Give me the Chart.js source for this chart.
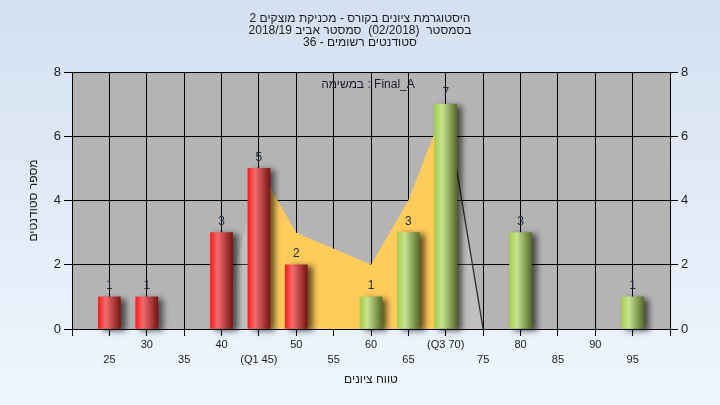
<!DOCTYPE html>
<html lang="he">
<head>
<meta charset="utf-8">
<title>היסטוגרמת ציונים</title>
<script src="https://cdn.jsdelivr.net/npm/chart.js@4.4.1/dist/chart.umd.min.js"></script>
<style>
  html, body { margin: 0; padding: 0; background: #e4edf8; }
  canvas { display: block; }
</style>
</head>
<body>
<canvas id="histogram" width="720" height="405" dir="rtl"></canvas>
<script>
// chart data
const titleLines = [
  "היסטוגרמת ציונים בקורס - מכניקת מוצקים 2",
  "בסמסטר  (02/2018)  סמסטר אביב 2018/19",
  "סטודנטים רשומים - 36",
];
const grades = [25, 30, 35, 40, 45, 50, 55, 60, 65, 70, 75, 80, 85, 90, 95];
const counts = [1, 1, 0, 3, 5, 2, 0, 1, 3, 7, 0, 3, 0, 0, 1];
const curveGrades = [40, 45, 50, 60, 65, 70, 75];
const curveCounts = [0, 5, 3, 2, 4, 7, 0];
const q1 = 45;
const q3 = 70;
const passMark = 55;
const taskName = "Final_A";
const xTitle = "טווח ציונים";
const yTitle = "מספר סטודנטים";

const FONT = '"Liberation Sans", Arial, sans-serif';
const BAR_WIDTH = 22;
const redShades = ["#ff1c1c", "#f26c6c", "#7a1414"];
const greenShades = ["#a3cf4c", "#c8e391", "#566e29"];

const bars = grades
  .map((g, i) => ({ x: g, y: counts[i] }))
  .filter((p) => p.y > 0);
const curve = curveGrades.map((g, i) => ({ x: g, y: curveCounts[i] }));
const quartileCurve = curve.filter((p) => p.x >= q1 && p.x <= q3);

function gradeLabel(v) {
  if (v === q1) return "(Q1 " + v + ")";
  if (v === q3) return "(Q3 " + v + ")";
  return String(v);
}

function barFill(context) {
  const chart = context.chart;
  const raw = context.raw;
  if (!chart.chartArea || !raw) return redShades[0];
  const cx = chart.scales.x.getPixelForValue(raw.x);
  const g = chart.ctx.createLinearGradient(cx - BAR_WIDTH / 2, 0, cx + BAR_WIDTH / 2, 0);
  const shades = raw.x < passMark ? redShades : greenShades;
  g.addColorStop(0, shades[0]);
  g.addColorStop(0.33, shades[1]);
  g.addColorStop(1, shades[2]);
  return g;
}

const background = {
  id: "background",
  beforeDraw(chart) {
    const { ctx, chartArea } = chart;
    ctx.save();
    const g = ctx.createLinearGradient(0, 0, 0, chart.height);
    g.addColorStop(0, "#d4e0f1");
    g.addColorStop(1, "#eff6fe");
    ctx.fillStyle = g;
    ctx.fillRect(0, 0, chart.width, chart.height);
    ctx.fillStyle = "#b4b4b4";
    ctx.fillRect(chartArea.left, chartArea.top,
      chartArea.right - chartArea.left, chartArea.bottom - chartArea.top);
    ctx.restore();
  },
};

// drop shadow on the bars only
const barShadow = {
  id: "barShadow",
  beforeDatasetDraw(chart, args) {
    if (args.index !== 0) return;
    const ctx = chart.ctx;
    ctx.save();
    ctx.shadowColor = "rgba(0,0,0,0.6)";
    ctx.shadowBlur = 6;
    ctx.shadowOffsetX = 5;
    ctx.shadowOffsetY = 2;
  },
  afterDatasetDraw(chart, args) {
    if (args.index !== 0) return;
    chart.ctx.restore();
  },
};

const barLabels = {
  id: "barLabels",
  afterDatasetsDraw(chart) {
    const { ctx, chartArea } = chart;
    const meta = chart.getDatasetMeta(0);
    ctx.save();
    ctx.font = "12px " + FONT;
    ctx.fillStyle = "#1e2a3c";
    ctx.textAlign = "center";
    ctx.textBaseline = "middle";
    meta.data.forEach((bar, i) => {
      ctx.fillText(String(bars[i].y), bar.x, bar.y - 11);
    });
    // series caption inside the plot
    ctx.direction = "ltr";
    ctx.fillStyle = "#20182e";
    ctx.fillText("במשימה : " + taskName, (chartArea.left + chartArea.right) / 2 - 3, chartArea.top + 13);
    ctx.restore();
  },
};

new Chart(document.getElementById("histogram"), {
  type: "bar",
  data: {
    datasets: [
      {
        type: "bar",
        data: bars,
        backgroundColor: barFill,
        barThickness: BAR_WIDTH,
        borderWidth: 0,
        clip: 10,
        order: 0,
      },
      {
        type: "line",
        data: quartileCurve,
        fill: "origin",
        backgroundColor: "#ffcb59",
        borderWidth: 0,
        borderColor: "rgba(0,0,0,0)",
        pointRadius: 0,
        tension: 0,
        order: 1,
      },
      {
        type: "line",
        data: curve,
        fill: "origin",
        backgroundColor: "rgba(255,255,255,0.17)",
        borderWidth: 1.3,
        borderColor: "rgba(0,0,0,0)",
        segment: {
          borderColor: (s) => (s.p0.parsed.x >= q3 ? "#2b2b2b" : "rgba(0,0,0,0)"),
        },
        pointRadius: 0,
        tension: 0,
        order: 2,
      },
    ],
  },
  options: {
    responsive: false,
    devicePixelRatio: 1,
    animation: false,
    layout: { padding: 0 },
    plugins: {
      legend: { display: false },
      tooltip: { enabled: false },
      title: {
        display: true,
        text: titleLines,
        color: "#1c1c1c",
        font: { family: FONT, size: 12, weight: "normal", lineHeight: 1 },
        padding: { top: 13, bottom: 23 },
      },
    },
    scales: {
      x: {
        type: "linear",
        min: 20,
        max: 100,
        offset: false,
        afterFit: (s) => { s.height = 76; },
        ticks: {
          stepSize: 5,
          autoSkip: false,
          maxRotation: 0,
          padding: 2,
          color: "#1c1c1c",
          font: { family: FONT, size: 11, lineHeight: 1.35 },
          callback: (v) => {
            if (!grades.includes(v)) return "";
            return v % 10 === 0 ? [gradeLabel(v)] : ["", gradeLabel(v)];
          },
        },
        grid: { color: "#000", tickLength: 7, offset: false },
        border: { color: "#000" },
        title: {
          display: true,
          text: xTitle,
          color: "#1c1c1c",
          font: { family: FONT, size: 12 },
          padding: { top: 0, bottom: 18 },
        },
      },
      y: {
        position: "left",
        min: 0,
        max: 8,
        afterFit: (s) => { s.width = 72; },
        ticks: {
          stepSize: 2,
          padding: 3,
          color: "#1c1c1c",
          font: { family: FONT, size: 13 },
        },
        grid: { color: "#000", tickLength: 8 },
        border: { color: "#000" },
        title: {
          display: true,
          text: yTitle,
          color: "#1c1c1c",
          font: { family: FONT, size: 12 },
          padding: { top: 26, bottom: 0 },
        },
      },
      y2: {
        position: "right",
        min: 0,
        max: 8,
        afterFit: (s) => { s.width = 50; },
        ticks: {
          stepSize: 2,
          padding: 3,
          color: "#1c1c1c",
          font: { family: FONT, size: 13 },
        },
        grid: { color: "#000", tickLength: 8, drawOnChartArea: false },
        border: { color: "#000" },
      },
    },
  },
  plugins: [background, barShadow, barLabels],
});
</script>
</body>
</html>
